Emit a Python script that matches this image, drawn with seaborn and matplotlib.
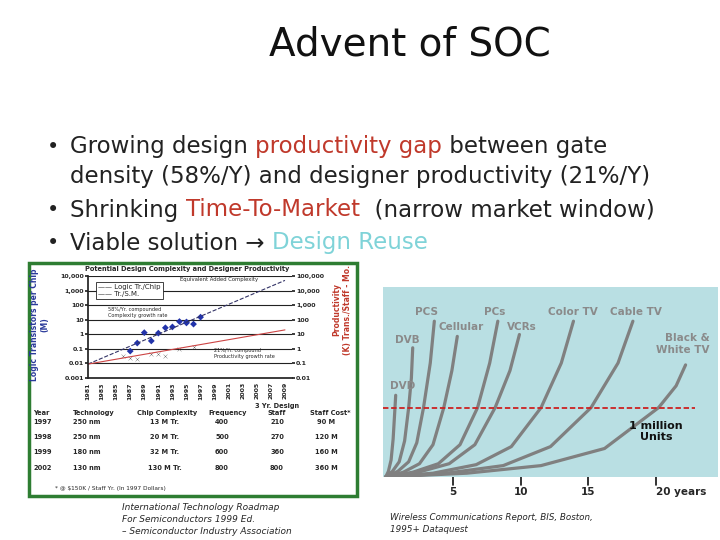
import matplotlib
matplotlib.use("Agg")
import matplotlib.pyplot as plt
import seaborn as sns
import numpy as np
import pandas as pd
from matplotlib.patches import Rectangle
from matplotlib.offsetbox import TextArea, HPacker, AnchoredOffsetbox

sns.set_theme(style="white")
plt.rcParams['font.family'] = ['DejaVu Sans']

# ---------------- data ----------------
bullets = ["Growing design ", "productivity gap", " between gate",
           "density (58%/Y) and designer productivity (21%/Y)",
           "Shrinking ", "Time-To-Market", "  (narrow market window)",
           "Viable solution \u2192 ", "Design Reuse"]

logic_years = [1987, 1988, 1989, 1990, 1991, 1992, 1993, 1994, 1995, 1995, 1996, 1997]
logic_vals = [0.07, 0.25, 1.3, 0.35, 1.2, 2.8, 3.2, 7.5, 6.0, 7.0, 5.0, 15.0]
prod_years = [1986, 1987, 1988, 1990, 1991, 1992, 1994, 1996]
prod_vals = [0.03, 0.025, 0.02, 0.045, 0.045, 0.03, 0.1, 0.14]
trend_years = [1981, 2009]
logic_trend = [0.009, 5000]
prod_trend = [0.009, 2.0]
year_ticks = list(range(1981, 2010, 2))

table_header = ["Year", "Technology", "Chip Complexity", "Frequency", "3 Yr. Design\nStaff", "Staff Cost*"]
table_rows = [["1997", "250 nm", "13 M Tr.", "400", "210", "90 M"],
              ["1998", "250 nm", "20 M Tr.", "500", "270", "120 M"],
              ["1999", "180 nm", "32 M Tr.", "600", "360", "160 M"],
              ["2002", "130 nm", "130 M Tr.", "800", "800", "360 M"]]

products = ["DVD", "DVB", "PCS", "Cellular", "PCs", "VCRs", "Color TV", "Cable TV", "Black &\nWhite TV"]
curve_x = [[0, 0.2, 0.4, 0.55, 0.65, 0.7, 0.74],
           [0, 0.5, 1.0, 1.4, 1.7, 1.9, 2.0],
           [0, 0.9, 1.7, 2.3, 2.8, 3.3, 3.6],
           [0, 1.3, 2.5, 3.5, 4.3, 4.9, 5.3],
           [0, 2.0, 3.9, 5.5, 6.8, 7.7, 8.3],
           [0, 2.4, 4.7, 6.6, 8.1, 9.2, 9.9],
           [0, 3.5, 6.7, 9.3, 11.5, 13.0, 13.9],
           [0, 4.5, 8.7, 12.2, 15.2, 17.2, 18.3],
           [0, 6.0, 11.5, 16.2, 20.2, 21.5, 22.2]]
curve_y = [[0, 3, 9, 20, 32, 38, 43],
           [0, 3, 8, 19, 36.5, 52, 68],
           [0, 3, 8, 18, 36.5, 60, 82],
           [0, 2.5, 7, 17, 36.5, 56, 74],
           [0, 2.5, 7, 17, 36.5, 60, 82],
           [0, 2.5, 7, 17, 36.5, 56, 75],
           [0, 2, 6.5, 16, 36.5, 60, 82],
           [0, 2, 6, 16, 36.5, 60, 82],
           [0, 2, 6, 15, 36.5, 48, 59]]
million_level = 36.5
xtick_years = [5, 10, 15, 20]

# ---------------- figure ----------------
W, H = 720, 540
fig = plt.figure(figsize=(7.2, 5.4), dpi=100)
fig.patch.set_facecolor("white")

def fx(px): return px / W
def fy(py): return 1 - py / H

def ax_at(x0, y0, x1, y1):
    return fig.add_axes([fx(x0), fy(y1), (x1 - x0) / W, (y1 - y0) / H])

fig.text(fx(410), fy(45), "Advent of SOC", fontsize=28, ha="center", va="center", color="#111111")

red = "#c0392b"; cyan = "#7fd3d8"

def line(x, y, parts, bullet=True):
    boxes = [TextArea(s, textprops=dict(color=c, fontsize=16.5)) for s, c in parts]
    pack = HPacker(children=boxes, align="baseline", pad=0, sep=0)
    ab = AnchoredOffsetbox(loc="center left", child=pack, pad=0, frameon=False,
                           bbox_to_anchor=(fx(x), fy(y)), bbox_transform=fig.transFigure, borderpad=0)
    fig.add_artist(ab)
    if bullet:
        fig.text(fx(47), fy(y), "\u2022", fontsize=15, va="center", color="#222222")

k = "#222222"
line(70, 147, [(bullets[0], k), (bullets[1], red), (bullets[2], k)])
line(70, 176, [(bullets[3], k)], bullet=False)
line(70, 210, [(bullets[4], k), (bullets[5], red), (bullets[6], k)])
line(70, 243, [(bullets[7], k), (bullets[8], cyan)])

# green panel border
fig.add_artist(Rectangle((fx(29), fy(496)), (357 - 29) / W, (496 - 263) / H, transform=fig.transFigure,
                         fill=False, edgecolor="#2e7d32", lw=2.5))

# left log chart
ax = ax_at(88, 276, 292, 378)
ax.set_yscale("log")
ax.set_ylim(0.001, 10000)
ax.set_xlim(1981, 2010)
for v in [0.01, 0.1, 1, 10, 100, 1000, 10000]:
    ax.axhline(v, color="#222222", lw=0.8, zorder=0)
sns.lineplot(x=trend_years, y=logic_trend, ax=ax, color="#333366", lw=0.8, linestyle="--")
sns.lineplot(x=trend_years, y=prod_trend, ax=ax, color="#cc4444", lw=0.8)
sns.scatterplot(x=logic_years, y=logic_vals, ax=ax, color="#2233aa", marker="D", s=12, edgecolor="none")
sns.scatterplot(x=prod_years, y=prod_vals, ax=ax, color="#444444", marker="x", s=8)
ax.set_yticks([0.001, 0.01, 0.1, 1, 10, 100, 1000, 10000])
ax.set_yticklabels(["0.001", "0.01", "0.1", "1", "10", "100", "1,000", "10,000"], fontsize=4.5, fontweight="bold")
ax.set_xticks(year_ticks)
ax.set_xticklabels([str(y) for y in year_ticks], rotation=90, fontsize=4.5, fontweight="bold")
ax.tick_params(axis="both", length=2, pad=1)
ax.minorticks_off()
for s in ["top", "right"]:
    ax.spines[s].set_visible(False)
ax.spines["left"].set_color("#222222"); ax.spines["bottom"].set_color("#222222")
ax2 = ax.twinx()
ax2.set_yscale("log"); ax2.set_ylim(0.01, 100000)
ax2.set_yticks([0.01, 0.1, 1, 10, 100, 1000, 10000, 100000])
ax2.set_yticklabels(["0.01", "0.1", "1", "10", "100", "1,000", "10,000", "100,000"], fontsize=4.5, fontweight="bold")
ax2.minorticks_off(); ax2.tick_params(length=2, pad=1)
for s in ax2.spines.values(): s.set_visible(False)
ax.text(0.05, 0.92, "—— Logic Tr./Chip\n—— Tr./S.M.", transform=ax.transAxes, fontsize=5, va="top",
        bbox=dict(facecolor="white", edgecolor="#222222", lw=0.6, pad=1.5))
ax.text(0.45, 0.95, "Equivalent Added Complexity", transform=ax.transAxes, fontsize=3.8)
ax.text(0.1, 0.6, "58%/Yr. compounded\nComplexity growth rate", transform=ax.transAxes, fontsize=3.6)
ax.text(0.62, 0.2, "21%/Yr. compound\nProductivity growth rate", transform=ax.transAxes, fontsize=3.6)
fig.text(fx(85), fy(271), "Potential Design Complexity and Designer Productivity", fontsize=4.8, fontweight="bold")
fig.text(fx(40), fy(325), "Logic Transistors per Chip\n(M)", rotation=90, fontsize=5.5, fontweight="bold",
         color="#2a3a9a", ha="center", va="center")
fig.text(fx(342), fy(310), "Productivity\n(K) Trans./Staff - Mo.", rotation=90, fontsize=5.5, fontweight="bold",
         color="#c0392b", ha="center", va="center")

# table
col_x = [33, 73, 137, 208, 277, 310]
col_ha = ["left", "left", "left", "left", "center", "left"]
for cx, ha, h in zip(col_x, col_ha, table_header):
    fig.text(fx(cx), fy(416), h, fontsize=4.8, ha=ha, va="bottom", fontweight="bold")
row_y = [422, 437, 452, 468]
val_ha = ["left", "center", "center", "center", "center", "center"]
for ry, row in zip(row_y, table_rows):
    for cx, ha, v in zip([33, 87, 165, 222, 277, 326], val_ha, row):
        fig.text(fx(cx), fy(ry), v, fontsize=4.8, ha=ha, va="center", fontweight="bold")
fig.text(fx(55), fy(490), "* @ $150K / Staff Yr. (In 1997 Dollars)", fontsize=4.2)
for i, s in enumerate(["International Technology Roadmap", "For Semiconductors 1999 Ed.",
                       "\u2013 Semiconductor Industry Association"]):
    fig.text(fx(122), fy(508 + 11.5 * i), s, fontsize=6.5, style="italic", va="center")

# right adoption chart
axr = ax_at(383, 287, 718, 477)
axr.set_facecolor("#b9dfe3")
axr.set_xlim(-0.2, 24.6); axr.set_ylim(0, 100)
df = pd.DataFrame([(p, x, y) for p, xs, ys in zip(products, curve_x, curve_y) for x, y in zip(xs, ys)],
                  columns=["product", "year", "units"])
sns.lineplot(data=df, x="year", y="units", units="product", estimator=None, ax=axr, color="#808080", lw=2.3,
             sort=False)
axr.axhline(million_level, xmax=0.93, color="#cc2222", lw=1.3, linestyle=(0, (3, 1.5)))
lab_pos = {"DVD": (0.3, 48), "DVB": (0.7, 72), "PCS": (2.2, 87),
           "Cellular": (3.9, 79), "PCs": (7.3, 87), "VCRs": (9.0, 79),
           "Color TV": (12.0, 87), "Cable TV": (16.6, 87), "Black &\nWhite TV": (24.0, 70)}
for p in products:
    x, y = lab_pos[p]
    ha = "right" if p.startswith("Black") else "left"
    axr.text(x, y, p, fontsize=7.5, fontweight="bold", color="#8a8a8a", ha=ha, va="center")
axr.text(20.0, 24, "1 million\nUnits", fontsize=8, fontweight="bold", color="#111111", ha="center", va="center")
axr.set_xticks([]); axr.set_yticks([]); axr.set_xlabel(""); axr.set_ylabel("")
for s in axr.spines.values(): s.set_visible(False)
axb = ax_at(383, 477, 718, 497)
axb.set_xlim(-0.2, 24.6); axb.set_ylim(0, 1); axb.axis("off")
for t in xtick_years:
    axb.plot([t, t], [0.6, 1.0], color="#111111", lw=1.2)
    axb.text(t, 0.1, str(t) + (" years" if t == 20 else ""), ha="center" if t != 20 else "left",
             fontsize=7.5, fontweight="bold")
fig.text(fx(390), fy(518), "Wireless Communications Report, BIS, Boston,", fontsize=6.3, style="italic", va="center")
fig.text(fx(390), fy(530), "1995+ Dataquest", fontsize=6.3, style="italic", va="center")

fig.savefig("out.png", dpi=100)
